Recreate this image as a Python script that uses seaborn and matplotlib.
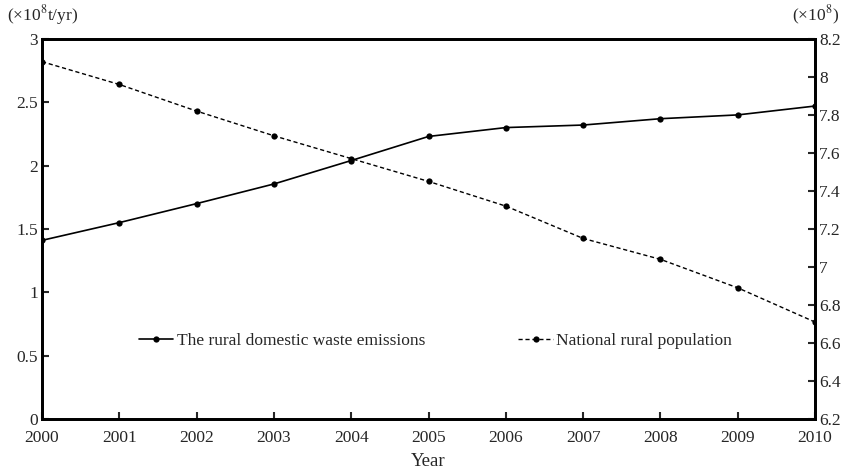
import matplotlib
matplotlib.use("Agg")
import matplotlib.pyplot as plt
import seaborn as sns
import pandas as pd

years = [2000, 2001, 2002, 2003, 2004, 2005, 2006, 2007, 2008, 2009, 2010]
waste = [1.41, 1.55, 1.70, 1.855, 2.04, 2.23, 2.30, 2.32, 2.37, 2.40, 2.47]
population = [8.08, 7.96, 7.82, 7.69, 7.57, 7.45, 7.32, 7.15, 7.04, 6.89, 6.71]
left_ticks = [0, 0.5, 1, 1.5, 2, 2.5, 3]
left_labels = ["0", "0.5", "1", "1.5", "2", "2.5", "3"]
right_ticks = [6.2, 6.4, 6.6, 6.8, 7.0, 7.2, 7.4, 7.6, 7.8, 8.0, 8.2]
right_labels = ["6.2", "6.4", "6.6", "6.8", "7", "7.2", "7.4", "7.6", "7.8", "8", "8.2"]

sns.set_style("ticks")
plt.rcParams['font.family'] = ['Liberation Serif', 'DejaVu Serif']
plt.rcParams['mathtext.fontset'] = 'stix'

df = pd.DataFrame({"Year": years, "waste": waste, "pop": population})

fig = plt.figure(figsize=(8.58, 4.74), dpi=100)
ax = fig.add_axes([0.049, 0.116, 0.901, 0.802])
ax2 = ax.twinx()

sns.lineplot(data=df, x="Year", y="waste", ax=ax, color="black", lw=1.2,
             marker="o", markersize=4.5, markeredgewidth=0,
             label="The rural domestic waste emissions", legend=False)
sns.lineplot(data=df, x="Year", y="pop", ax=ax2, color="black", lw=1.0,
             linestyle=(0, (3, 2)), marker="o", markersize=4.5, markeredgewidth=0,
             label="National rural population", legend=False)

ax.set_xlim(2000, 2010)
ax.set_ylim(0, 3)
ax2.set_ylim(6.2, 8.2)
ax.set_xticks(years)
ax.set_xticklabels([str(y) for y in years], fontsize=12.5)
ax.set_yticks(left_ticks)
ax.set_yticklabels(left_labels, fontsize=12.5)
ax2.set_yticks(right_ticks)
ax2.set_yticklabels(right_labels, fontsize=12.5)

for a in (ax, ax2):
    a.tick_params(direction="in", length=5, width=1.5, pad=3)
    for s in a.spines.values():
        s.set_linewidth(2)
        s.set_color("black")
ax.tick_params(axis="x", pad=8)

ax.set_xlabel("Year", fontsize=13.5, labelpad=5)
ax.set_ylabel("")
ax2.set_ylabel("")

fig.text(0.008, 0.968, r"(×10$^{8}$t/yr)", fontsize=12.5, ha="left", va="center")
fig.text(0.978, 0.968, r"(×10$^{8}$)", fontsize=12.5, ha="right", va="center")

h1, l1 = ax.get_legend_handles_labels()
h2, l2 = ax2.get_legend_handles_labels()
ax2.legend(h1 + h2, l1 + l2, loc="center", bbox_to_anchor=(0.509, 0.205),
           ncol=2, frameon=False, fontsize=12.5, columnspacing=5.35,
           handlelength=2.0, handletextpad=0.2)

fig.savefig("out.png", dpi=100)
